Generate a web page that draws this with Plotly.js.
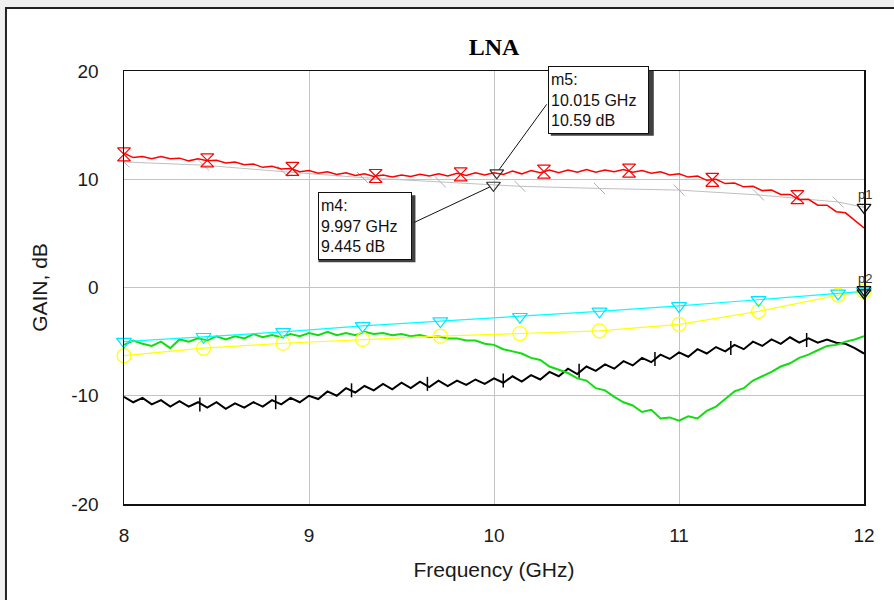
<!DOCTYPE html>
<html>
<head>
<meta charset="utf-8">
<script src="https://cdn.plot.ly/plotly-3.0.1.min.js"></script>
<style>html,body{margin:0;padding:0;background:#f0f0f0;}#chart{width:894px;height:600px;}</style>
</head>
<body>
<div id="chart"></div>
<script>
// Dense frequency grid (GHz) for measured traces
const freq = [8.00,8.05,8.10,8.15,8.20,8.25,8.30,8.35,8.40,8.45,8.50,8.55,8.60,8.65,8.70,8.75,8.80,8.85,8.90,8.95,
  9.00,9.05,9.10,9.15,9.20,9.25,9.30,9.35,9.40,9.45,9.50,9.55,9.60,9.65,9.70,9.75,9.80,9.85,9.90,9.95,
  10.00,10.05,10.10,10.15,10.20,10.25,10.30,10.35,10.40,10.45,10.50,10.55,10.60,10.65,10.70,10.75,10.80,10.85,10.90,10.95,
  11.00,11.05,11.10,11.15,11.20,11.25,11.30,11.35,11.40,11.45,11.50,11.55,11.60,11.65,11.70,11.75,11.80,11.85,11.90,11.95,12.00];

// Red measured gain (dB)
const redGain = [12.4,12.0,12.1,11.9,12.1,11.9,11.95,11.7,11.9,11.7,11.75,11.5,11.6,11.35,11.4,11.1,11.2,10.95,11.0,10.7,
  10.8,10.55,10.7,10.45,10.6,10.35,10.5,10.25,10.4,10.2,10.4,10.25,10.45,10.3,10.5,10.3,10.55,10.35,10.6,10.4,
  10.6,10.45,10.75,10.5,10.8,10.6,10.85,10.6,10.85,10.65,10.9,10.65,10.85,10.7,10.9,10.65,10.8,10.55,10.7,10.4,
  10.5,10.2,10.3,9.9,10.0,9.6,9.65,9.3,9.35,8.95,9.0,8.6,8.6,8.1,8.15,7.6,7.6,7.0,6.9,6.2,5.5];

// Green measured (dB)
const greenGain = [-5.3,-4.9,-5.2,-5.4,-5.0,-5.6,-4.8,-5.0,-4.7,-4.9,-4.5,-4.8,-4.5,-4.7,-4.3,-4.6,-4.4,-4.6,-4.3,-4.5,
  -4.2,-4.4,-4.1,-4.4,-4.2,-4.4,-4.1,-4.3,-4.2,-4.4,-4.3,-4.5,-4.4,-4.6,-4.5,-4.7,-4.7,-4.9,-4.9,-5.2,
  -5.3,-5.7,-5.9,-6.1,-6.5,-6.7,-7.3,-7.6,-7.9,-8.4,-8.6,-9.3,-9.5,-10.1,-10.6,-10.9,-11.5,-11.3,-12.1,-12.0,
  -12.3,-11.9,-12.1,-11.4,-11.0,-10.3,-9.6,-9.3,-8.6,-8.2,-7.8,-7.3,-7.0,-6.5,-6.2,-5.8,-5.4,-5.3,-5.0,-4.8,-4.5];

// Black measured (dB)
const blackGain = [-10.1,-10.6,-10.2,-10.8,-10.4,-11.0,-10.5,-11.0,-10.6,-11.1,-10.6,-11.2,-10.7,-11.1,-10.6,-11.0,-10.4,-10.8,-10.2,-10.6,
  -10.0,-10.3,-9.6,-10.0,-9.3,-9.7,-9.1,-9.5,-8.9,-9.4,-8.8,-9.3,-8.7,-9.2,-8.6,-9.1,-8.6,-9.0,-8.5,-8.9,
  -8.4,-8.8,-8.2,-8.7,-8.1,-8.5,-7.8,-8.2,-7.5,-8.0,-7.3,-7.7,-7.1,-7.5,-6.8,-7.2,-6.5,-6.9,-6.2,-6.6,
  -6.0,-6.4,-5.7,-6.1,-5.5,-5.9,-5.3,-5.7,-5.0,-5.4,-4.8,-5.2,-4.6,-5.1,-4.7,-5.1,-4.8,-5.1,-5.2,-5.6,-6.1];

// Simulated traces sampled at marker points
const simFreq = [8.0,8.43,8.86,9.29,9.71,10.14,10.57,11.0,11.43,11.86,12.0];
const grayGain = [11.6,11.3,10.7,10.15,9.75,9.35,9.15,9.0,8.55,7.9,7.4];
const cyanGain = [-5.0,-4.55,-4.1,-3.55,-3.1,-2.7,-2.2,-1.7,-1.15,-0.55,-0.35];
const yellowGain = [-6.3,-5.6,-5.15,-4.8,-4.5,-4.25,-4.0,-3.4,-2.2,-0.7,-0.35];

// Red trace symbol positions
const redMarkF = [8.0,8.45,8.91,9.36,9.82,10.27,10.73,11.18,11.64];
const redMarkV = [12.3,11.75,10.95,10.3,10.45,10.7,10.8,9.95,8.35];

// Black trace tick positions
const blackMarkF = [8.41,8.82,9.23,9.64,10.05,10.46,10.87,11.28,11.69];
const blackMarkV = [-10.8,-10.6,-9.5,-8.9,-8.6,-7.7,-6.6,-5.6,-4.85];

// Markers
const mNames = ['m5','m4'];
const mFreq = [10.015, 9.997];
const mGain = [10.59, 9.445];
const pNames = ['p1','p2'];
const pFreq = [12, 12, 12];
const pGain = [7.4, -0.2, -0.5];

// Axis ticks
const xTicks = [8, 9, 10, 11, 12];
const xTickText = ['8', '9', '10', '11', '12'];
const yTicks = [-20, -10, 0, 10, 20];
const yTickText = ['-20', '-10', '0', '10', '20'];

const traces = [
  {x: simFreq, y: grayGain, mode: 'lines+markers', line: {color: '#c0c0c0', width: 1},
   marker: {symbol: 'line-nw', size: 11, line: {color: '#b0b0b0', width: 1}}},
  {x: freq, y: blackGain, mode: 'lines', line: {color: '#000000', width: 2}},
  {x: blackMarkF, y: blackMarkV, mode: 'markers', marker: {symbol: 'line-ns', size: 10, line: {color: '#000', width: 1.5}}},
  {x: freq, y: greenGain, mode: 'lines', line: {color: '#11dd11', width: 2}},
  {x: simFreq, y: yellowGain, mode: 'lines+markers', cliponaxis: false, line: {color: '#ffff00', width: 1.2},
   marker: {symbol: 'circle-open', size: 14, color: '#ffff00', line: {width: 1.2}}},
  {x: simFreq, y: cyanGain, mode: 'lines+markers', cliponaxis: false, line: {color: '#00ffff', width: 1.2},
   marker: {symbol: 'triangle-down-open', size: 13, color: '#00e5ff', line: {width: 1.2}}},
  {x: freq, y: redGain, mode: 'lines', line: {color: '#ff0000', width: 1.5}},
  {x: redMarkF, y: redMarkV, mode: 'markers', cliponaxis: false, marker: {symbol: 'hourglass-open', size: 13, color: '#ff0000', line: {width: 1.2}}},
  {x: mFreq, y: mGain, mode: 'markers', marker: {symbol: 'triangle-down-open', size: 12, color: '#333333', line: {width: 1.2}}},
  {x: pFreq, y: pGain, mode: 'markers', cliponaxis: false, marker: {symbol: 'triangle-down-open', size: 12, color: '#111111', line: {width: 1.3}}}
];

const boxFont = {family: 'Arial, Liberation Sans, sans-serif', size: 16, color: '#111'};
const annotations = [
  // m5 box + leader
  {x: mFreq[0], y: mGain[0], xref: 'x', yref: 'y', text: '', showarrow: true, arrowhead: 0, arrowwidth: 1, arrowcolor: '#111', ax: 51, ay: -70, standoff: 4},
  {x: mFreq[0], y: mGain[0], xref: 'x', yref: 'y', showarrow: false, xanchor: 'left', yanchor: 'top', xshift: 51, yshift: 107,
   text: mNames[0] + ':<br>' + mFreq[0].toFixed(3) + ' GHz<br>' + mGain[0].toFixed(2) + ' dB', align: 'left', width: 95, height: 62, valign: 'middle',
   font: boxFont, bgcolor: '#ffffff', bordercolor: '#111', borderwidth: 1, borderpad: 2},
  // m4 box + leader
  {x: mFreq[1], y: mGain[1], xref: 'x', yref: 'y', text: '', showarrow: true, arrowhead: 0, arrowwidth: 1, arrowcolor: '#111', ax: -81, ay: 38, standoff: 4},
  {x: mFreq[1], y: mGain[1], xref: 'x', yref: 'y', showarrow: false, xanchor: 'right', yanchor: 'top', xshift: -81, yshift: -7,
   text: mNames[1] + ':<br>' + mFreq[1].toFixed(3) + ' GHz<br>' + mGain[1].toFixed(3) + ' dB', align: 'left', width: 88, height: 62, valign: 'middle',
   font: boxFont, bgcolor: '#ffffff', bordercolor: '#111', borderwidth: 1, borderpad: 2},
  // p labels
  {x: pFreq[0], y: pGain[0], xref: 'x', yref: 'y', text: pNames[0], showarrow: false, yshift: 13, xshift: 1,
   font: {family: 'Arial, Liberation Sans, sans-serif', size: 13, color: '#333'}},
  {x: pFreq[1], y: pGain[1], xref: 'x', yref: 'y', text: pNames[1], showarrow: false, yshift: 11, xshift: 1,
   font: {family: 'Arial, Liberation Sans, sans-serif', size: 13, color: '#333'}}
];

const shapes = [
  // outer frame
  {type: 'rect', xref: 'paper', yref: 'paper', x0: -0.1595, x1: 1.2, y0: -0.4, y1: 1.1455, layer: 'below',
   fillcolor: '#ffffff', line: {color: '#222222', width: 2}},
  // shadows of marker boxes
  {type: 'rect', xref: 'x', yref: 'y', xsizemode: 'pixel', ysizemode: 'pixel', xanchor: mFreq[0], yanchor: mGain[0],
   x0: 54, x1: 157, y0: 37, y1: 104, fillcolor: '#404040', line: {width: 0}, layer: 'above'},
  {type: 'rect', xref: 'x', yref: 'y', xsizemode: 'pixel', ysizemode: 'pixel', xanchor: mFreq[1], yanchor: mGain[1],
   x0: -175, x1: -78, y0: -77, y1: -10, fillcolor: '#404040', line: {width: 0}, layer: 'above'}
];

const tickFont = {family: 'Arial, Liberation Sans, sans-serif', size: 19, color: '#1a1a1a'};
const titleFont = {family: 'Arial, Liberation Sans, sans-serif', size: 21, color: '#1a1a1a'};
const layout = {
  width: 894, height: 600,
  margin: {l: 124, r: 30, t: 71, b: 96, pad: 0},
  paper_bgcolor: '#f0f0f0', plot_bgcolor: '#ffffff',
  showlegend: false,
  title: {text: '<b>LNA</b>', x: 0.5, xref: 'paper', xanchor: 'center', y: 1 - 47/600, yanchor: 'middle',
    font: {family: 'Liberation Serif, Times New Roman, serif', size: 24, color: '#000'}},
  xaxis: {range: [8, 12], tickmode: 'array', tickvals: xTicks, ticktext: xTickText, showgrid: true, gridcolor: '#c4c4c4', gridwidth: 1, zeroline: false,
    showline: true, mirror: true, linecolor: '#111', linewidth: 1.5, ticks: '', ticklabelstandoff: 14,
    tickfont: tickFont,
    title: {text: 'Frequency (GHz)', font: titleFont, standoff: 17}},
  yaxis: {range: [-20, 20], tickmode: 'array', tickvals: yTicks, ticktext: yTickText, showgrid: true, gridcolor: '#c4c4c4', gridwidth: 1, zeroline: false,
    showline: true, mirror: true, linecolor: '#111', linewidth: 1.5, ticks: '', ticklabelstandoff: 20,
    tickfont: tickFont,
    title: {text: 'GAIN, dB', font: titleFont, standoff: 18}},
  annotations: annotations,
  shapes: shapes
};

Plotly.newPlot('chart', traces, layout, {displayModeBar: false, staticPlot: true});
</script>
</body>
</html>
